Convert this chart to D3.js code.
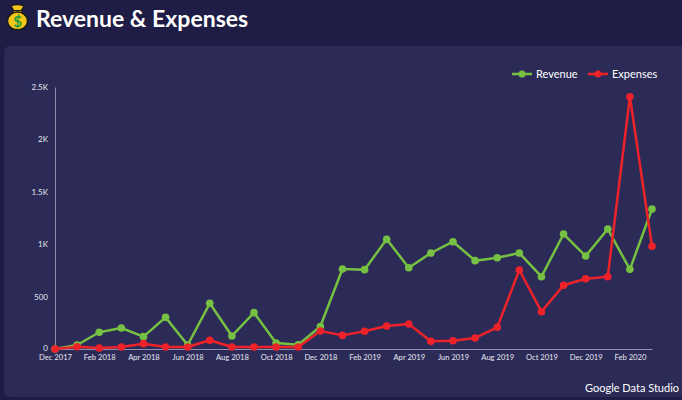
<!DOCTYPE html>
<html><head><meta charset="utf-8">
<script src="https://cdn.jsdelivr.net/npm/d3@7/dist/d3.min.js"></script>
<style>
html,body{margin:0;padding:0;background:#1f1c45;}
svg{display:block;}
</style></head>
<body>
<svg id="c" width="682" height="400"></svg>
<script>
const months = ["Dec 2017","Jan 2018","Feb 2018","Mar 2018","Apr 2018","May 2018","Jun 2018","Jul 2018","Aug 2018","Sep 2018","Oct 2018","Nov 2018","Dec 2018","Jan 2019","Feb 2019","Mar 2019","Apr 2019","May 2019","Jun 2019","Jul 2019","Aug 2019","Sep 2019","Oct 2019","Nov 2019","Dec 2019","Jan 2020","Feb 2020","Mar 2020"];
const revenue = [0,38,160,200,118,302,38,436,124,347,57,41,215,763,757,1047,776,916,1024,843,870,916,690,1097,887,1145,760,1336];
const expenses = [0,22,10,19,51,19,19,83,19,19,19,19,172,130,169,219,238,73,79,105,207,754,356,608,671,690,2407,980];
const yTicks = [0,500,1000,1500,2000,2500];
const yTickLabels = ["0","500","1K","1.5K","2K","2.5K"];
const xTickLabels = ["Dec 2017","Feb 2018","Apr 2018","Jun 2018","Aug 2018","Oct 2018","Dec 2018","Feb 2019","Apr 2019","Jun 2019","Aug 2019","Oct 2019","Dec 2019","Feb 2020"];

const GREEN="#76c142", RED="#ee2229";
const svg=d3.select("#c");
const font="Lato, 'Open Sans', sans-serif";

// panel
svg.append("rect").attr("x",4).attr("y",46).attr("width",690).attr("height",351).attr("rx",6).attr("fill","#2c2b58");

// money bag icon
const ic=svg.append("g");
ic.append("path").attr("d","M11,6 Q17,3 24,6 L21,11 L14,11 Z").attr("fill","#f5c518").attr("stroke","#1a1a1a").attr("stroke-width",1.3);
ic.append("rect").attr("x",13).attr("y",10.5).attr("width",9).attr("height",2.5).attr("fill","#d4a017").attr("stroke","#1a1a1a").attr("stroke-width",1);
ic.append("ellipse").attr("cx",17.5).attr("cy",21).attr("rx",10).attr("ry",9).attr("fill","#f5c518").attr("stroke","#1a1a1a").attr("stroke-width",1.4);
ic.append("text").attr("x",17.5).attr("y",26.5).attr("text-anchor","middle").attr("font-family",font).attr("font-weight","900").attr("font-size",15).attr("fill","#2a9d3a").text("$");

// title
svg.append("text").attr("x",36).attr("y",27).attr("font-family",font).attr("font-weight","700").attr("font-size",23).attr("fill","#ffffff").text("Revenue & Expenses");

// scales
const x=d3.scalePoint().domain(months).range([55,652]);
const y=d3.scaleLinear().domain([0,2500]).range([349,87]);

// y axis
const ya=svg.append("g").attr("transform","translate(55,0)").call(d3.axisLeft(y).tickValues(yTicks).tickFormat((d,i)=>yTickLabels[i]).tickSize(0).tickPadding(7));
ya.select(".domain").attr("stroke","#8f8fae").attr("stroke-width",1);
ya.selectAll("text").attr("font-family",font).attr("font-size",8).attr("fill","#e6e6ee");
ya.selectAll(".tick").filter(d=>d===0).select("text").attr("dy","0.2em");

// x axis
const xa=svg.append("g").attr("transform","translate(0,349)").call(d3.axisBottom(x).tickValues(xTickLabels).tickSize(0).tickPadding(6));
xa.select(".domain").attr("stroke","#8f8fae").attr("stroke-width",1);
xa.selectAll("text").attr("font-family",font).attr("font-size",7.6).attr("fill","#e6e6ee");

function series(vals,color){
  const line=d3.line().x((d,i)=>x(months[i])).y(d=>y(d));
  svg.append("path").datum(vals).attr("d",line).attr("fill","none").attr("stroke",color).attr("stroke-width",2.5).attr("stroke-linejoin","round");
  svg.append("g").selectAll("circle").data(vals).join("circle").attr("cx",(d,i)=>x(months[i])).attr("cy",d=>y(d)).attr("r",3.8).attr("fill",color);
}
series(revenue,GREEN);
series(expenses,RED);

// legend
const leg=[{n:"Revenue",c:GREEN,x:512},{n:"Expenses",c:RED,x:588}];
leg.forEach(l=>{
  svg.append("line").attr("x1",l.x).attr("x2",l.x+20).attr("y1",74).attr("y2",74).attr("stroke",l.c).attr("stroke-width",2.5);
  svg.append("circle").attr("cx",l.x+10).attr("cy",74).attr("r",3.5).attr("fill",l.c);
  svg.append("text").attr("x",l.x+24).attr("y",78).attr("font-family",font).attr("font-size",11).attr("fill","#ffffff").text(l.n);
});

// footer
svg.append("text").attr("x",585).attr("y",392).attr("font-family",font).attr("font-size",11).attr("fill","#ffffff").text("Google Data Studio");
</script>
</body></html>
